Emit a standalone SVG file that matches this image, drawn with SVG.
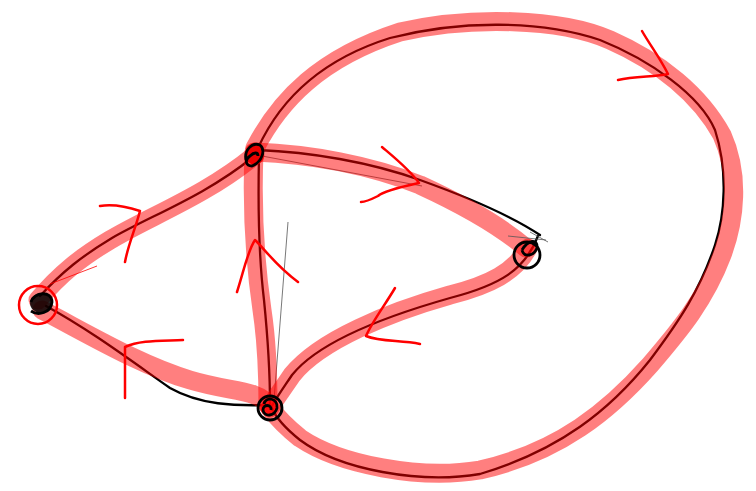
<svg xmlns="http://www.w3.org/2000/svg" width="756" height="491" viewBox="0 0 756 491">
<style>
.bk{fill:none;stroke:#000;stroke-width:2.3;stroke-linecap:round;stroke-linejoin:round}
.thin{fill:none;stroke:#555;stroke-width:0.8}
.pk{fill:none;stroke:rgba(255,0,0,0.5);stroke-width:19;stroke-linecap:round;stroke-linejoin:round}
.ar{fill:none;stroke:#f00;stroke-width:2.5;stroke-linecap:round;stroke-linejoin:round}
.nd{fill:none;stroke:#000;stroke-width:2.8}
</style>
<rect width="756" height="491" fill="#fff"/>
<g id="connectors">
<path class="bk" d="M40,296 C62,272 82,256 112,238 C150,216 205,196 253,157"/>
<path class="bk" d="M46,306 C90,330 130,360 170,388 C200,405 235,406 268,405"/>
<path class="bk" d="M259,156 C258,200 258,250 264,300 C268,340 270,380 270,405"/>
<path class="thin" d="M288,222 L274,400"/>
<path class="bk" d="M258,150 C310,152 370,162 420,180 C470,198 510,215 540,235"/>
<path class="thin" d="M262,156 L422,186"/>
<path class="bk" d="M538,236 C525,270 500,285 450,298 C390,315 320,340 292,375 C282,390 275,400 272,406"/>
<path class="bk" d="M258,148 C280,100 320,60 390,38 C460,20 540,20 600,40 C650,60 700,95 715,130 C728,170 725,215 715,245 C700,290 680,320 650,360 C610,410 560,450 480,474 C420,484 340,470 300,440 C285,428 276,418 272,408"/>
<path class="pk" d="M38,300 C60,274 80,258 110,240 C150,216 205,196 255,155"/>
<path class="pk" d="M42,310 C90,335 140,365 190,380 C230,392 260,390 268,405"/>
<path class="pk" d="M254,152 C252,200 254,255 262,310 C268,350 268,390 268,405"/>
<path class="pk" d="M255,152 C310,154 370,165 420,185 C470,208 505,230 526,248"/>
<path class="pk" d="M528,248 C515,272 490,285 450,295 C390,312 320,340 292,375 C282,390 274,400 270,408"/>
<path class="pk" d="M255,148 C280,100 320,58 400,32 C470,16 560,18 610,40 C660,62 700,95 722,135 C740,175 735,220 722,255 C705,300 680,330 650,365 C610,410 560,452 480,470 C420,480 340,465 300,438 C285,426 276,416 270,408"/>
<path class="ar" d="M642,31 C650,45 660,58 668,74 C655,77 635,76 618,80"/>
<path class="ar" d="M382,147 C395,158 410,170 419,183 C405,186 385,190 378,196 C370,200 365,202 361,202"/>
<path class="ar" d="M100,206 C112,204 128,207 140,211 C135,230 128,245 125,262"/>
<path class="ar" d="M237,292 C244,270 248,250 255,240 C262,246 275,265 298,282"/>
<path class="ar" d="M125,398 L125,347 C140,340 160,341 183,340"/>
<path class="ar" d="M395,288 C385,305 372,322 366,336 C380,342 400,340 420,344"/>
<line x1="50" y1="284" x2="97" y2="266" stroke="#f00" stroke-width="0.8"/>
</g>
<g id="nodeA">
<circle cx="38" cy="305" r="19" fill="none" stroke="#f00" stroke-width="2.5"/>
<ellipse cx="41" cy="303" rx="11" ry="10" fill="#000" opacity="0.85"/>
<path class="nd" d="M31,302 C34,292 52,290 52,302 C51,313 38,316 31,311"/>
</g>
<g id="nodeB">
<ellipse cx="255" cy="155" rx="9" ry="10" fill="#e00"/>
<path class="nd" d="M246,160 C244,150 252,142 260,145 C266,150 262,162 252,166 C246,166 244,160 250,156 C254,152 258,152 258,156"/>
</g>
<g id="nodeC">
<circle cx="527" cy="255" r="13" class="nd"/>
<path class="nd" d="M522,250 C528,240 538,238 537,248 C534,256 524,258 522,250"/>
<path class="thin" d="M508,236 L546,240 M530,232 L548,242"/>
</g>
<g id="nodeD">
<circle cx="270" cy="408" r="12" class="nd"/>
<path class="nd" d="M264,404 C266,396 278,398 277,408 C275,416 264,418 263,410 C263,404 272,404 271,410"/>
</g>
</svg>
